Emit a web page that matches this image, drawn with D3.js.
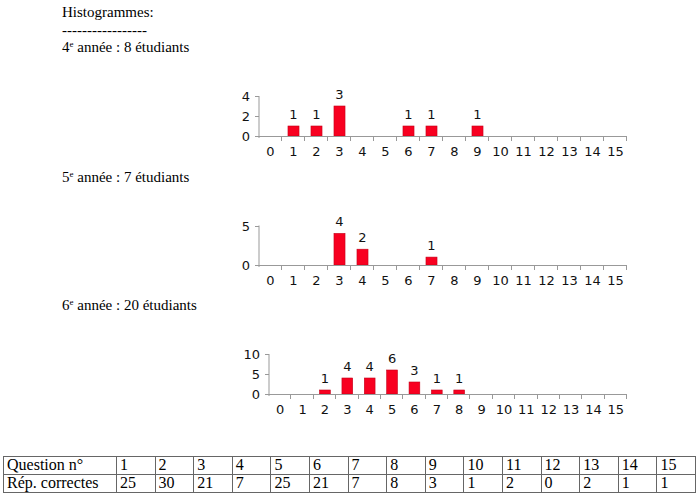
<!DOCTYPE html>
<html>
<head>
<meta charset="utf-8">
<script src="https://cdn.jsdelivr.net/npm/d3@7"></script>
<style>
  body { margin: 0; background: #fff; }
  svg { display: block; }
</style>
</head>
<body>
<div id="chart"></div>
<script>
// Données
const categories = d3.range(0, 16);           // nombre de réponses correctes 0..15
const counts4 = [0, 1, 1, 3, 0, 0, 1, 1, 0, 1, 0, 0, 0, 0, 0, 0];
const counts5 = [0, 0, 0, 4, 2, 0, 0, 1, 0, 0, 0, 0, 0, 0, 0, 0];
const counts6 = [0, 0, 1, 4, 4, 6, 3, 1, 1, 0, 0, 0, 0, 0, 0, 0];
const yTicks4 = [0, 2, 4];
const yTicks5 = [0, 5];
const yTicks6 = [0, 5, 10];
const questions = d3.range(1, 16);
const correctAnswers = [25, 30, 21, 7, 25, 21, 7, 8, 3, 1, 2, 0, 2, 1, 1];

const width = 698, height = 494;
const serif = "'Liberation Serif', 'Times New Roman', serif";
const sans = "'DejaVu Sans', Verdana, sans-serif";
const barColor = "#f80020";
const axisColor = "#999";

const svg = d3.select("#chart").append("svg")
    .attr("width", width)
    .attr("height", height);

// En-têtes
function heading(y, num, rest) {
    const t = svg.append("text")
        .attr("x", 62).attr("y", y)
        .attr("font-family", serif).attr("font-size", 15)
        .attr("fill", "#000");
    t.append("tspan").text(num);
    t.append("tspan").attr("font-size", 9).attr("dy", -5).text("e");
    t.append("tspan").attr("dy", 5).text(rest);
}

svg.append("text")
    .attr("x", 62).attr("y", 17)
    .attr("font-family", serif).attr("font-size", 15)
    .text("Histogrammes:");
svg.append("text")
    .attr("x", 62).attr("y", 35)
    .attr("font-family", serif).attr("font-size", 15)
    .text("-----------------");

heading(52, "4", " année : 8 étudiants");
heading(182, "5", " année : 7 étudiants");
heading(310, "6", " année : 20 étudiants");

// Histogramme
function histogram(data, yTicks, left, right, base, h) {
    const g = svg.append("g");
    const x = d3.scaleBand().domain(categories).range([left, right])
        .paddingInner(0.52).paddingOuter(0.26);
    const y = d3.scaleLinear().domain([0, d3.max(yTicks)]).range([base, base - h]);

    // axe y
    g.append("line")
        .attr("x1", left).attr("x2", left)
        .attr("y1", base - h).attr("y2", base + 2)
        .attr("stroke", axisColor);
    g.selectAll(".yt").data(yTicks).join("line")
        .attr("x1", left - 4).attr("x2", left)
        .attr("y1", d => Math.round(y(d)) + 0.5).attr("y2", d => Math.round(y(d)) + 0.5)
        .attr("stroke", axisColor);
    g.selectAll(".yl").data(yTicks).join("text")
        .attr("x", left - 9).attr("y", d => y(d) + 5)
        .attr("text-anchor", "end")
        .attr("font-family", sans).attr("font-size", 13)
        .attr("fill", "#111")
        .text(d => d);

    // barres
    g.selectAll("rect").data(categories.filter(c => data[c] > 0)).join("rect")
        .attr("x", c => x(c))
        .attr("y", c => y(data[c]))
        .attr("width", x.bandwidth())
        .attr("height", c => base - y(data[c]))
        .attr("fill", barColor)
        .attr("stroke", "#c4001a")
        .attr("stroke-width", 0.6);

    g.selectAll(".vl").data(categories.filter(c => data[c] > 0)).join("text")
        .attr("x", c => x(c) + x.bandwidth() / 2)
        .attr("y", c => y(data[c]) - 7)
        .attr("text-anchor", "middle")
        .attr("font-family", sans).attr("font-size", 13)
        .attr("fill", "#111")
        .text(c => data[c]);

    // axe x
    g.append("line")
        .attr("x1", left).attr("x2", right)
        .attr("y1", Math.round(base) + 0.5).attr("y2", Math.round(base) + 0.5)
        .attr("stroke", axisColor);
    const step = x.step();
    g.selectAll(".xt").data(categories.slice(1).concat([16])).join("line")
        .attr("x1", c => Math.round(left + c * step) - 0.5)
        .attr("x2", c => Math.round(left + c * step) - 0.5)
        .attr("y1", base).attr("y2", base + 5)
        .attr("stroke", axisColor);
    g.selectAll(".xl").data(categories).join("text")
        .attr("x", c => left + (c + 0.5) * step)
        .attr("y", base + 20)
        .attr("text-anchor", "middle")
        .attr("font-family", sans).attr("font-size", 13)
        .attr("fill", "#111")
        .text(c => c);
}

histogram(counts4, yTicks4, 259, 627, 136, 40);
histogram(counts5, yTicks5, 259, 627, 265, 39.5);
histogram(counts6, yTicks6, 269, 627, 394, 40);

// Tableau
const tableTop = 456, rowH = 18, tableLeft = 3, firstColRight = 116, tableRight = 695;
const col = d3.scaleBand().domain(questions).range([firstColRight, tableRight]);
const rows = [
    { label: "Question n°", values: questions },
    { label: "Rép. correctes", values: correctAnswers }
];
const tbl = svg.append("g");
tbl.append("rect")
    .attr("x", tableLeft + 0.5).attr("y", tableTop + 0.5)
    .attr("width", tableRight - tableLeft).attr("height", rowH * 2)
    .attr("fill", "none").attr("stroke", "#666");
tbl.append("line")
    .attr("x1", tableLeft).attr("x2", tableRight)
    .attr("y1", tableTop + rowH + 0.5).attr("y2", tableTop + rowH + 0.5)
    .attr("stroke", "#666");
tbl.selectAll(".cl").data(questions).join("line")
    .attr("x1", q => Math.round(col(q)) + 0.5).attr("x2", q => Math.round(col(q)) + 0.5)
    .attr("y1", tableTop).attr("y2", tableTop + rowH * 2)
    .attr("stroke", "#666");

rows.forEach((r, i) => {
    const yb = tableTop + i * rowH + 14;
    tbl.append("text")
        .attr("x", tableLeft + 4).attr("y", yb)
        .attr("font-family", serif).attr("font-size", 16)
        .text(r.label);
    tbl.selectAll(".v" + i).data(r.values).join("text")
        .attr("x", (d, j) => col(questions[j]) + 4)
        .attr("y", yb)
        .attr("font-family", serif).attr("font-size", 16)
        .text(d => d);
});
</script>
</body>
</html>
